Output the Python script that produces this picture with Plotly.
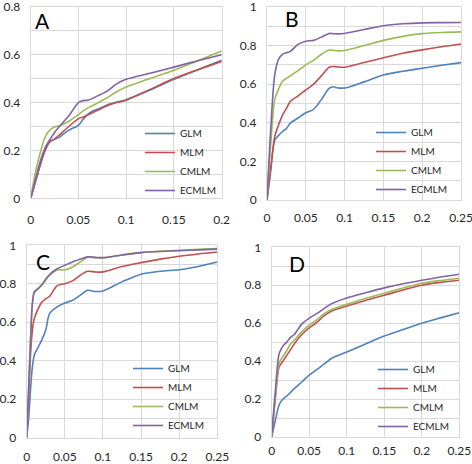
import plotly.graph_objects as go

series_names = ["GLM", "MLM", "CMLM", "ECMLM"]
colors = ["#4F81BD", "#C0504D", "#9BBB59", "#8064A2"]
panel_labels = ["A", "B", "C", "D"]

# Panel A
xA = [0, 0.005, 0.01, 0.015, 0.02, 0.025, 0.03, 0.04, 0.05, 0.055, 0.06, 0.065, 0.07, 0.08, 0.09, 0.1, 0.125, 0.15, 0.175, 0.2]
A_GLM = [0, 0.07, 0.14, 0.2, 0.237, 0.247, 0.255, 0.285, 0.305, 0.33, 0.352, 0.365, 0.372, 0.39, 0.402, 0.412, 0.452, 0.497, 0.537, 0.577]
A_MLM = [0, 0.07, 0.14, 0.2, 0.235, 0.248, 0.265, 0.30, 0.333, 0.34, 0.348, 0.358, 0.368, 0.387, 0.40, 0.41, 0.455, 0.50, 0.537, 0.572]
A_CMLM = [0, 0.11, 0.19, 0.255, 0.285, 0.298, 0.303, 0.322, 0.35, 0.365, 0.378, 0.388, 0.398, 0.42, 0.445, 0.465, 0.50, 0.535, 0.575, 0.615]
A_ECMLM = [0, 0.08, 0.155, 0.21, 0.245, 0.275, 0.30, 0.345, 0.40, 0.408, 0.41, 0.418, 0.428, 0.448, 0.478, 0.497, 0.522, 0.548, 0.575, 0.60]

# Panel B
xB = [0, 0.005, 0.01, 0.015, 0.02, 0.025, 0.03, 0.04, 0.05, 0.06, 0.07, 0.08, 0.085, 0.09, 0.1, 0.125, 0.15, 0.175, 0.2, 0.225, 0.25]
B_GLM = [0, 0.16, 0.31, 0.335, 0.355, 0.37, 0.398, 0.425, 0.452, 0.47, 0.52, 0.578, 0.587, 0.582, 0.58, 0.612, 0.648, 0.667, 0.683, 0.698, 0.712]
B_MLM = [0, 0.17, 0.33, 0.39, 0.44, 0.475, 0.51, 0.54, 0.57, 0.60, 0.643, 0.688, 0.692, 0.69, 0.688, 0.712, 0.737, 0.76, 0.778, 0.794, 0.808]
B_CMLM = [0, 0.30, 0.52, 0.575, 0.615, 0.63, 0.643, 0.67, 0.70, 0.724, 0.755, 0.777, 0.776, 0.773, 0.775, 0.80, 0.827, 0.848, 0.862, 0.868, 0.871]
B_ECMLM = [0, 0.38, 0.65, 0.73, 0.755, 0.763, 0.77, 0.806, 0.823, 0.827, 0.844, 0.863, 0.862, 0.861, 0.863, 0.883, 0.903, 0.913, 0.918, 0.919, 0.92]

# Panel C
xC = [0, 0.0025, 0.005, 0.0075, 0.01, 0.015, 0.02, 0.025, 0.03, 0.04, 0.05, 0.06, 0.07, 0.08, 0.09, 0.1, 0.125, 0.15, 0.175, 0.2, 0.225, 0.25]
C_GLM = [0, 0.10, 0.25, 0.37, 0.43, 0.47, 0.51, 0.56, 0.645, 0.68, 0.70, 0.714, 0.74, 0.766, 0.76, 0.763, 0.81, 0.85, 0.865, 0.873, 0.89, 0.913]
C_MLM = [0, 0.20, 0.43, 0.56, 0.62, 0.67, 0.705, 0.722, 0.735, 0.79, 0.80, 0.815, 0.844, 0.865, 0.861, 0.862, 0.89, 0.91, 0.928, 0.943, 0.955, 0.965]
C_CMLM = [0, 0.25, 0.50, 0.70, 0.76, 0.775, 0.795, 0.82, 0.844, 0.872, 0.872, 0.887, 0.913, 0.938, 0.936, 0.934, 0.95, 0.962, 0.969, 0.974, 0.979, 0.983]
C_ECMLM = [0, 0.25, 0.50, 0.70, 0.755, 0.775, 0.795, 0.825, 0.848, 0.878, 0.896, 0.913, 0.927, 0.94, 0.937, 0.936, 0.95, 0.962, 0.968, 0.972, 0.976, 0.98]

# Panel D
xD = [0, 0.005, 0.01, 0.015, 0.02, 0.025, 0.03, 0.04, 0.05, 0.06, 0.07, 0.08, 0.1, 0.125, 0.15, 0.175, 0.2, 0.225, 0.25]
D_GLM = [0, 0.09, 0.17, 0.20, 0.215, 0.235, 0.255, 0.29, 0.326, 0.355, 0.385, 0.415, 0.448, 0.49, 0.532, 0.567, 0.60, 0.628, 0.655]
D_MLM = [0, 0.21, 0.37, 0.40, 0.43, 0.46, 0.49, 0.54, 0.575, 0.604, 0.64, 0.664, 0.69, 0.72, 0.747, 0.775, 0.80, 0.815, 0.826]
D_CMLM = [0, 0.22, 0.39, 0.425, 0.455, 0.49, 0.51, 0.555, 0.59, 0.618, 0.65, 0.672, 0.70, 0.73, 0.758, 0.785, 0.81, 0.825, 0.837]
D_ECMLM = [0, 0.25, 0.44, 0.48, 0.50, 0.525, 0.54, 0.595, 0.627, 0.65, 0.678, 0.703, 0.733, 0.76, 0.786, 0.808, 0.826, 0.843, 0.858]

# tick labels
xticks_A = ["0", "0.05", "0.1", "0.15", "0.2"]
xticks_BCD = ["0", "0.05", "0.1", "0.15", "0.2", "0.25"]
yticks_A = ["0", "0.2", "0.4", "0.6", "0.8"]
yticks_BCD = ["0", "0.2", "0.4", "0.6", "0.8", "1"]

x_ticks = [xticks_A, xticks_BCD, xticks_BCD, xticks_BCD]
y_ticks = [yticks_A, yticks_BCD, yticks_BCD, yticks_BCD]
x_ranges = [[0, 0.2], [0, 0.25], [0, 0.25], [0, 0.25]]
y_ranges = [[0, 0.8], [0, 1], [0, 1], [0, 1]]

panels = [
    (xA, [A_GLM, A_MLM, A_CMLM, A_ECMLM]),
    (xB, [B_GLM, B_MLM, B_CMLM, B_ECMLM]),
    (xC, [C_GLM, C_MLM, C_CMLM, C_ECMLM]),
    (xD, [D_GLM, D_MLM, D_CMLM, D_ECMLM]),
]

W, H = 472, 464
# plot areas in pixels: (left, right, top, bottom)
boxes = [(30.7, 221.7, 6.8, 198.3), (267, 461, 7.0, 200), (26.7, 217.3, 245.3, 437.7), (271.7, 459.3, 247.3, 437)]
legend_px = [(140, 119), (371, 118), (128, 354), (373, 355)]
label_px = [(42, 20), (292, 19), (43, 261), (297, 263)]
x_standoff = [10, 7, 8, 3]

FONT = "Lato, 'Open Sans', sans-serif"
GRID = "#d9d9d9"

fig = go.Figure()
layout = dict(
    width=W, height=H, margin=dict(l=0, r=0, t=0, b=0),
    paper_bgcolor="white", plot_bgcolor="white",
    font=dict(family=FONT, size=12, color="#262626"),
    annotations=[],
)

for i, (xs, ys_list) in enumerate(panels):
    n = "" if i == 0 else str(i + 1)
    leg = "legend" if i == 0 else f"legend{i + 1}"
    for name, col, ys in zip(series_names, colors, ys_list):
        fig.add_trace(go.Scatter(
            x=xs, y=ys, name=name, mode="lines",
            line=dict(color=col, width=1.6, shape="spline", smoothing=0.8),
            xaxis=f"x{n}", yaxis=f"y{n}", legend=leg,
        ))
    l, r, t, b = boxes[i]
    layout[f"xaxis{n}"] = dict(
        domain=[l / W, r / W], range=x_ranges[i], anchor=f"y{n}",
        tickmode="array", tickvals=[float(v) for v in x_ticks[i]], ticktext=x_ticks[i],
        showgrid=True, gridcolor=GRID, gridwidth=1,
        zeroline=False, showline=True, linecolor=GRID, mirror=True,
        ticks="", ticklabelstandoff=x_standoff[i],
        tickfont=dict(size=12), ticklabeloverflow="allow",
        automargin=False, fixedrange=True,
    )
    layout[f"yaxis{n}"] = dict(
        domain=[1 - b / H, 1 - t / H], range=y_ranges[i], anchor=f"x{n}",
        tickmode="array", tickvals=[float(v) for v in y_ticks[i]], ticktext=y_ticks[i],
        showgrid=True, gridcolor=GRID, gridwidth=1,
        minor=dict(dtick=0.1, tick0=0, showgrid=True, gridcolor=GRID, gridwidth=1),
        zeroline=False, showline=True, linecolor=GRID, mirror=True,
        ticks="", ticklabelstandoff=7, tickfont=dict(size=12),
        ticklabeloverflow="allow",
        automargin=False, fixedrange=True,
    )
    lx, ly = legend_px[i]
    layout[leg] = dict(
        x=lx / W, y=1 - ly / H, xanchor="left", yanchor="top",
        bgcolor="rgba(0,0,0,0)", font=dict(size=10, family=FONT, color="#262626"),
        itemwidth=30,
    )
    ax, ay = label_px[i]
    layout["annotations"].append(dict(
        text=panel_labels[i], x=ax / W, y=1 - ay / H, xref="paper", yref="paper",
        showarrow=False, font=dict(size=21, family=FONT, color="black"),
        xanchor="center", yanchor="middle",
    ))

fig.update_layout(**layout)
fig.write_html("out.html", config={"displayModeBar": False},
               post_script="document.body.style.margin='0';")
